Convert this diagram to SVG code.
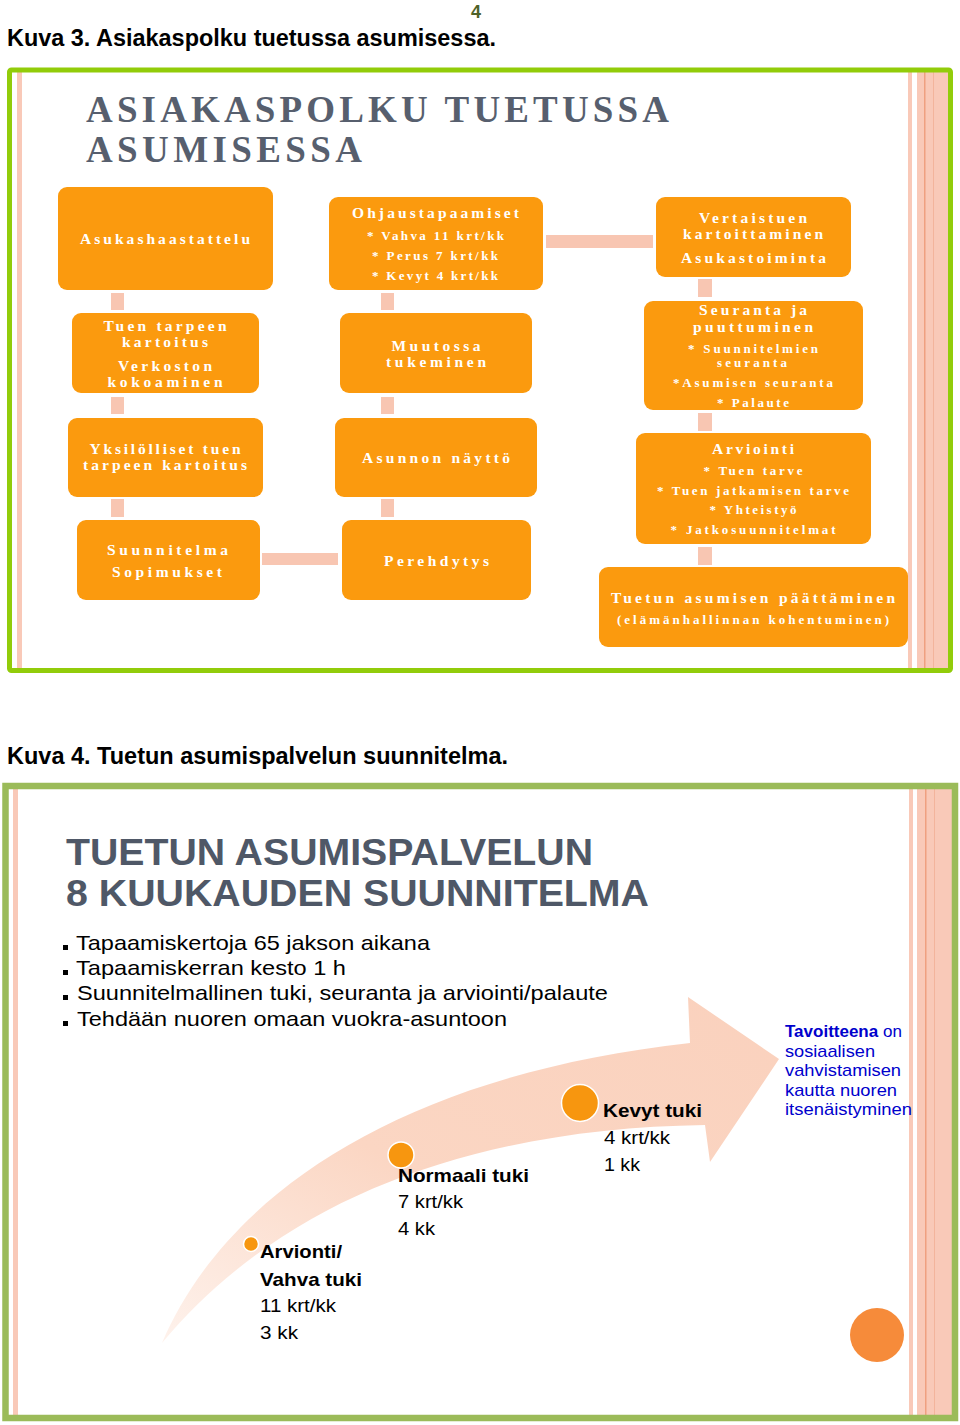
<svg xmlns="http://www.w3.org/2000/svg" width="960" height="1425" viewBox="0 0 960 1425">
<defs>
<style>
.bx{fill:#FB9A0E}
.cn{fill:#F8C6B2}
.bt{font-family:"Liberation Serif","Times New Roman",serif;font-weight:bold;fill:#FFFFFF;text-anchor:middle;font-size:15.5px}
.bs{font-family:"Liberation Serif","Times New Roman",serif;font-weight:bold;fill:#FFFFFF;text-anchor:middle;font-size:13px}
.cap{font-family:"Liberation Sans",Arial,sans-serif;font-weight:bold;fill:#000;font-size:23.5px}
.t1{font-family:"Liberation Serif","Times New Roman",serif;font-weight:bold;fill:#575F6E;font-size:37px}
.t2{font-family:"Liberation Sans",Arial,sans-serif;font-weight:bold;fill:#4F5867;font-size:37px}
.bl{font-family:"Liberation Sans",Arial,sans-serif;fill:#000;font-size:21px}
.lb{font-family:"Liberation Sans",Arial,sans-serif;font-weight:bold;fill:#000;font-size:19px}
.lr{font-family:"Liberation Sans",Arial,sans-serif;fill:#000;font-size:19px}
.gl{font-family:"Liberation Sans",Arial,sans-serif;fill:#0000CC;font-size:17px}
.pk{fill:#F9C9B8}
</style>
<linearGradient id="arrowGrad" x1="0" y1="1" x2="1" y2="0">
<stop offset="0" stop-color="#FEF2EC"/>
<stop offset="0.45" stop-color="#FBD6C3"/>
<stop offset="1" stop-color="#FAD1BD"/>
</linearGradient>
</defs>
<rect width="960" height="1425" fill="#FFFFFF"/>

<!-- page header -->
<text x="476" y="18" font-family="Liberation Sans, Arial, sans-serif" font-weight="bold" font-size="18" fill="#4F6228" text-anchor="middle" textLength="10" lengthAdjust="spacingAndGlyphs">4</text>
<text class="cap" x="7" y="46" textLength="489" lengthAdjust="spacingAndGlyphs">Kuva 3. Asiakaspolku tuetussa asumisessa.</text>

<!-- frame 1 -->
<g id="frame1">
<rect class="pk" x="17" y="72" width="5" height="597"/>
<rect class="pk" x="908" y="72" width="4" height="597"/>
<rect class="pk" x="917" y="72" width="31" height="597"/>
<rect x="924" y="72" width="1.5" height="597" fill="#EFA080"/>
<rect x="933" y="72" width="1" height="597" fill="#F3B49C"/>
<rect x="9.5" y="70" width="941" height="600.5" fill="none" stroke="#92CC0A" stroke-width="5" rx="2"/>
<text class="t1" x="86" y="122" textLength="583" lengthAdjust="spacing">ASIAKASPOLKU TUETUSSA</text>
<text class="t1" x="86" y="162" textLength="276" lengthAdjust="spacing">ASUMISESSA</text>
</g>

<!-- connectors -->
<g id="connectors">
<rect class="cn" x="111" y="293" width="13" height="17"/>
<rect class="cn" x="111" y="397" width="13" height="17"/>
<rect class="cn" x="111" y="499" width="13" height="18"/>
<rect class="cn" x="381" y="293" width="13" height="17"/>
<rect class="cn" x="381" y="397" width="13" height="17"/>
<rect class="cn" x="381" y="499" width="13" height="18"/>
<rect class="cn" x="262" y="553" width="76" height="12"/>
<rect class="cn" x="546" y="235" width="107" height="13"/>
<rect class="cn" x="698" y="279" width="14" height="18"/>
<rect class="cn" x="698" y="413" width="14" height="18"/>
<rect class="cn" x="698" y="547" width="14" height="18"/>
</g>

<g id="n-asukashaastattelu">
<rect class="bx" x="58" y="187" width="215" height="103" rx="9"/>
<text class="bt" x="165" y="244" textLength="170" lengthAdjust="spacing">Asukashaastattelu</text>
</g>
<g id="n-ohjaustapaamiset">
<rect class="bx" x="329" y="197" width="214" height="93" rx="9"/>
<text class="bt" x="435.5" y="218" textLength="167" lengthAdjust="spacing">Ohjaustapaamiset</text>
<text class="bs" x="435.5" y="240" textLength="137" lengthAdjust="spacing">* Vahva 11 krt/kk</text>
<text class="bs" x="435" y="260" textLength="126" lengthAdjust="spacing">* Perus 7 krt/kk</text>
<text class="bs" x="435" y="280" textLength="126" lengthAdjust="spacing">* Kevyt 4 krt/kk</text>
</g>
<g id="n-vertaistuen">
<rect class="bx" x="656" y="197" width="195" height="80" rx="9"/>
<text class="bt" x="753" y="223" textLength="108" lengthAdjust="spacing">Vertaistuen</text>
<text class="bt" x="753" y="239" textLength="140" lengthAdjust="spacing">kartoittaminen</text>
<text class="bt" x="753.5" y="263" textLength="145" lengthAdjust="spacing">Asukastoiminta</text>
</g>
<g id="n-tuen-tarpeen">
<rect class="bx" x="72" y="313" width="187" height="80" rx="9"/>
<text class="bt" x="165" y="331" textLength="123" lengthAdjust="spacing">Tuen tarpeen</text>
<text class="bt" x="165" y="347" textLength="86" lengthAdjust="spacing">kartoitus</text>
<text class="bt" x="165" y="371" textLength="94" lengthAdjust="spacing">Verkoston</text>
<text class="bt" x="165" y="387" textLength="115" lengthAdjust="spacing">kokoaminen</text>
</g>
<g id="n-muutossa">
<rect class="bx" x="340" y="313" width="192" height="80" rx="9"/>
<text class="bt" x="436" y="351" textLength="89" lengthAdjust="spacing">Muutossa</text>
<text class="bt" x="436" y="367" textLength="100" lengthAdjust="spacing">tukeminen</text>
</g>
<g id="n-seuranta">
<rect class="bx" x="644" y="301" width="219" height="109" rx="9"/>
<text class="bt" x="753" y="315" textLength="108" lengthAdjust="spacing">Seuranta ja</text>
<text class="bt" x="753" y="332" textLength="120" lengthAdjust="spacing">puuttuminen</text>
<text class="bs" x="753" y="353" textLength="130" lengthAdjust="spacing">* Suunnitelmien</text>
<text class="bs" x="752" y="367" textLength="70" lengthAdjust="spacing">seuranta</text>
<text class="bs" x="753" y="387" textLength="160" lengthAdjust="spacing">*Asumisen seuranta</text>
<text class="bs" x="753" y="407" textLength="72" lengthAdjust="spacing">* Palaute</text>
</g>
<g id="n-yksilolliset">
<rect class="bx" x="68" y="418" width="195" height="79" rx="9"/>
<text class="bt" x="165" y="454" textLength="151" lengthAdjust="spacing">Yksilölliset tuen</text>
<text class="bt" x="165" y="470" textLength="164" lengthAdjust="spacing">tarpeen kartoitus</text>
</g>
<g id="n-asunnon">
<rect class="bx" x="335" y="418" width="202" height="79" rx="9"/>
<text class="bt" x="436" y="463" textLength="148" lengthAdjust="spacing">Asunnon näyttö</text>
</g>
<g id="n-arviointi">
<rect class="bx" x="636" y="433" width="235" height="111" rx="9"/>
<text class="bt" x="753" y="454" textLength="82" lengthAdjust="spacing">Arviointi</text>
<text class="bs" x="753" y="475" textLength="99" lengthAdjust="spacing">* Tuen tarve</text>
<text class="bs" x="753" y="495" textLength="192" lengthAdjust="spacing">* Tuen jatkamisen tarve</text>
<text class="bs" x="753" y="514" textLength="87" lengthAdjust="spacing">* Yhteistyö</text>
<text class="bs" x="753" y="534" textLength="165" lengthAdjust="spacing">* Jatkosuunnitelmat</text>
</g>
<g id="n-suunnitelma">
<rect class="bx" x="77" y="520" width="183" height="80" rx="9"/>
<text class="bt" x="167.5" y="555" textLength="121" lengthAdjust="spacing">Suunnitelma</text>
<text class="bt" x="167" y="577" textLength="110" lengthAdjust="spacing">Sopimukset</text>
</g>
<g id="n-perehdytys">
<rect class="bx" x="342" y="520" width="189" height="80" rx="9"/>
<text class="bt" x="436.5" y="566" textLength="105" lengthAdjust="spacing">Perehdytys</text>
</g>
<g id="n-paattaminen">
<rect class="bx" x="599" y="567" width="309" height="80" rx="9"/>
<text class="bt" x="753" y="603" font-size="18" textLength="284" lengthAdjust="spacing">Tuetun asumisen päättäminen</text>
<text class="bs" x="753" y="624" textLength="272" lengthAdjust="spacing">(elämänhallinnan kohentuminen)</text>
</g>

<!-- second figure -->
<text class="cap" x="7" y="764" textLength="501" lengthAdjust="spacingAndGlyphs">Kuva 4. Tuetun asumispalvelun suunnitelma.</text>

<g id="frame2">
<rect class="pk" x="13" y="789" width="5" height="626"/>
<rect class="pk" x="909" y="789" width="4" height="626"/>
<rect class="pk" x="917" y="789" width="35" height="626"/>
<rect x="925" y="789" width="1.5" height="626" fill="#EFA080"/>
<rect x="934" y="789" width="1" height="626" fill="#F3B49C"/>
<rect x="5.5" y="786" width="949.5" height="632" fill="none" stroke="#9BBB59" stroke-width="6.5"/>
<text class="t2" x="66" y="865" textLength="527" lengthAdjust="spacingAndGlyphs">TUETUN ASUMISPALVELUN</text>
<text class="t2" x="66" y="906" textLength="583" lengthAdjust="spacingAndGlyphs">8 KUUKAUDEN SUUNNITELMA</text>
</g>

<g id="bullets">
<rect x="63" y="945" width="5" height="5" fill="#000"/>
<text class="bl" x="76" y="950" textLength="354" lengthAdjust="spacingAndGlyphs">Tapaamiskertoja 65 jakson aikana</text>
<rect x="63" y="970" width="5" height="5" fill="#000"/>
<text class="bl" x="76" y="975" textLength="270" lengthAdjust="spacingAndGlyphs">Tapaamiskerran kesto 1 h</text>
<rect x="63" y="995" width="5" height="5" fill="#000"/>
<text class="bl" x="77" y="1000" textLength="531" lengthAdjust="spacingAndGlyphs">Suunnitelmallinen tuki, seuranta ja arviointi/palaute</text>
<rect x="63" y="1021" width="5" height="5" fill="#000"/>
<text class="bl" x="77" y="1026" textLength="430" lengthAdjust="spacingAndGlyphs">Tehdään nuoren omaan vuokra-asuntoon</text>
</g>

<g id="arrow">
<path d="M162,1343 C225,1195 400,1075 690,1043 L688,997 L779,1059 L710,1162 L705,1125 C480,1128 285,1195 162,1343 Z" fill="url(#arrowGrad)"/>
</g>

<g id="step-arvionti">
<circle cx="251" cy="1244" r="7.5" fill="#F7960F" stroke="#FFFFFF" stroke-width="1.5"/>
<text class="lb" x="260" y="1258" textLength="82" lengthAdjust="spacingAndGlyphs">Arvionti/</text>
<text class="lb" x="260" y="1286" textLength="102" lengthAdjust="spacingAndGlyphs">Vahva tuki</text>
<text class="lr" x="260" y="1312" textLength="76" lengthAdjust="spacingAndGlyphs">11 krt/kk</text>
<text class="lr" x="260" y="1339" textLength="38" lengthAdjust="spacingAndGlyphs">3 kk</text>
</g>
<g id="step-normaali">
<circle cx="401" cy="1155" r="13" fill="#F7960F" stroke="#FFFFFF" stroke-width="1.5"/>
<text class="lb" x="398" y="1182" textLength="131" lengthAdjust="spacingAndGlyphs">Normaali tuki</text>
<text class="lr" x="398" y="1208" textLength="65" lengthAdjust="spacingAndGlyphs">7 krt/kk</text>
<text class="lr" x="398" y="1235" textLength="37" lengthAdjust="spacingAndGlyphs">4 kk</text>
</g>
<g id="step-kevyt">
<circle cx="580" cy="1103" r="18.5" fill="#F7960F" stroke="#FFFFFF" stroke-width="1.5"/>
<text class="lb" x="603" y="1117" textLength="99" lengthAdjust="spacingAndGlyphs">Kevyt tuki</text>
<text class="lr" x="604" y="1144" textLength="66" lengthAdjust="spacingAndGlyphs">4 krt/kk</text>
<text class="lr" x="604" y="1171" textLength="36" lengthAdjust="spacingAndGlyphs">1 kk</text>
</g>

<g id="goal">
<text class="gl" x="785" y="1037"><tspan font-weight="bold">Tavoitteena</tspan> on</text>
<text class="gl" x="785" y="1057" textLength="90" lengthAdjust="spacingAndGlyphs">sosiaalisen</text>
<text class="gl" x="785" y="1076" textLength="116" lengthAdjust="spacingAndGlyphs">vahvistamisen</text>
<text class="gl" x="785" y="1096" textLength="112" lengthAdjust="spacingAndGlyphs">kautta nuoren</text>
<text class="gl" x="785" y="1115" textLength="127" lengthAdjust="spacingAndGlyphs">itsenäistyminen</text>
</g>

<circle cx="877" cy="1335" r="27" fill="#F68B3A"/>
</svg>
